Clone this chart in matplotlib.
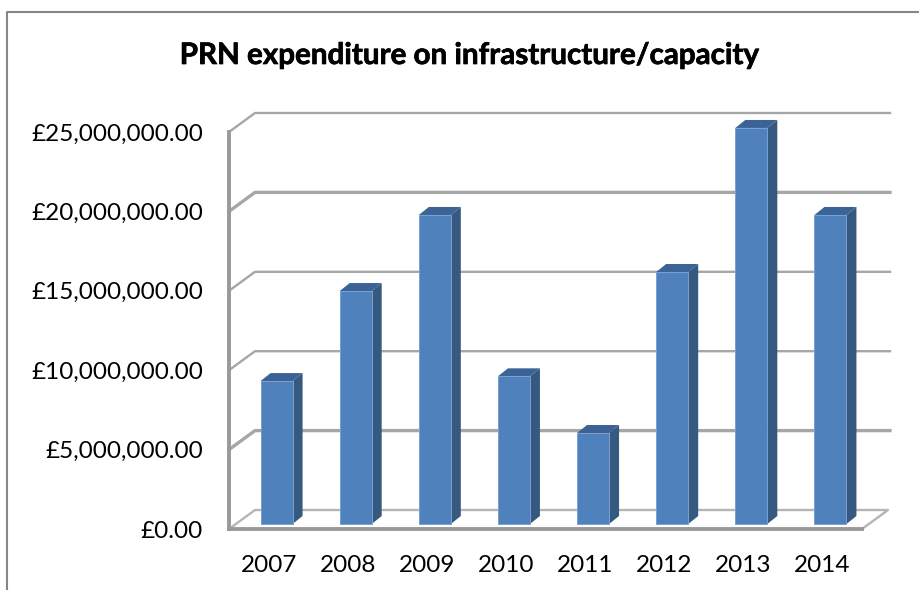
import matplotlib
matplotlib.use("Agg")
import matplotlib.pyplot as plt
import matplotlib.patheffects as pe
from matplotlib.patches import Rectangle

plt.rcParams['font.family'] = ['Lato', 'DejaVu Sans']

years = ['2007', '2008', '2009', '2010', '2011', '2012', '2013', '2014']
spend = [9.0e6, 14.67e6, 19.46e6, 9.3e6, 5.73e6, 15.87e6, 24.94e6, 19.46e6]
ticks = [0, 5e6, 10e6, 15e6, 20e6, 25e6]
tick_labels = ['£0.00', '£5,000,000.00', '£10,000,000.00', '£15,000,000.00',
               '£20,000,000.00', '£25,000,000.00']

W, H = 919, 590
fig = plt.figure(figsize=(W / 100, H / 100), dpi=100)

# axes = front plane of the 3d box
left, right, top, bottom = 229, 862, 132, 529
ax = fig.add_axes([left / W, 1 - bottom / H, (right - left) / W, (bottom - top) / H])
ax.set_xlim(-0.5, 7.5)
ax.set_ylim(0, 25e6)
ax.axis('off')

# pixel -> data helpers
px = 8 / (right - left)
py = 25e6 / (bottom - top)

GRID = '#a6a6a6'
BLUE = '#4f81bd'
EDGE = '#7ba0d0'
SIDE = '#36597f'
TOP = '#3b6396'

back_x = 26 * px
back_y = 19 * py

# walls and gridlines
for t in ticks:
    lw = 2.4 if t in (5e6, 20e6) else 1.7
    if t == 0:
        continue
    ax.plot([-0.5, -0.5 + back_x, 7.5 + back_x + 2 * px], [t, t + back_y, t + back_y],
            color=GRID, lw=lw, clip_on=False, zorder=1, solid_joinstyle='miter')

# floor
ax.plot([-0.5, -0.5 + back_x, 7.5 + back_x, 7.5], [0, back_y, back_y, 0],
        color='#b5b5b5', lw=1.7, clip_on=False, zorder=1)
ax.plot([-0.5, 7.5], [0, 0], color='#999999', lw=2.8, clip_on=False, zorder=2)
ax.plot([-0.5, -0.5], [0, 25e6], color='#999999', lw=2.8, clip_on=False, zorder=2)

# bars
bar_w = 32 * px
off_x = 8 * px
off_y = 5 * py
dep_x = 10 * px
dep_y = 8 * py
for i, v in enumerate(spend):
    x0 = i - bar_w / 2 + off_x
    x1 = x0 + bar_w
    y0 = off_y
    y1 = off_y + v
    ax.fill([x1, x1 + dep_x, x1 + dep_x, x1], [y0, y0 + dep_y, y1 + dep_y, y1],
            color=SIDE, lw=0, clip_on=False, zorder=3)
    ax.fill([x0, x0 + dep_x, x1 + dep_x, x1], [y1, y1 + dep_y, y1 + dep_y, y1],
            color=TOP, lw=0, clip_on=False, zorder=3)
    ax.add_patch(Rectangle((x0, y0), bar_w, v, facecolor=BLUE, edgecolor=EDGE, lw=0.7,
                           clip_on=False, zorder=4))

# labels
for t, lab in zip(ticks, tick_labels):
    fig.text(203 / W, 1 - (bottom + 2 - t / py) / H, lab, ha='right', va='center',
             fontsize=17.5, color='black')
for i, y in enumerate(years):
    fig.text((left + (i + 0.5) * 79 + 0.5) / W, 1 - 565 / H, y, ha='center', va='center',
             fontsize=17.5, color='black')
fig.text(469 / W, 1 - 55 / H, 'PRN expenditure on infrastructure/capacity', ha='center', va='center',
         fontsize=21.3, fontweight='bold', color='black',
         path_effects=[pe.withStroke(linewidth=0.5, foreground='black')])

# chart border, top and left only
fig.add_artist(plt.Line2D([7 / W, 7 / W, 1], [0, 1 - 12 / H, 1 - 12 / H],
                          color='#868686', lw=1.5))

fig.savefig('out.png', dpi=100)
